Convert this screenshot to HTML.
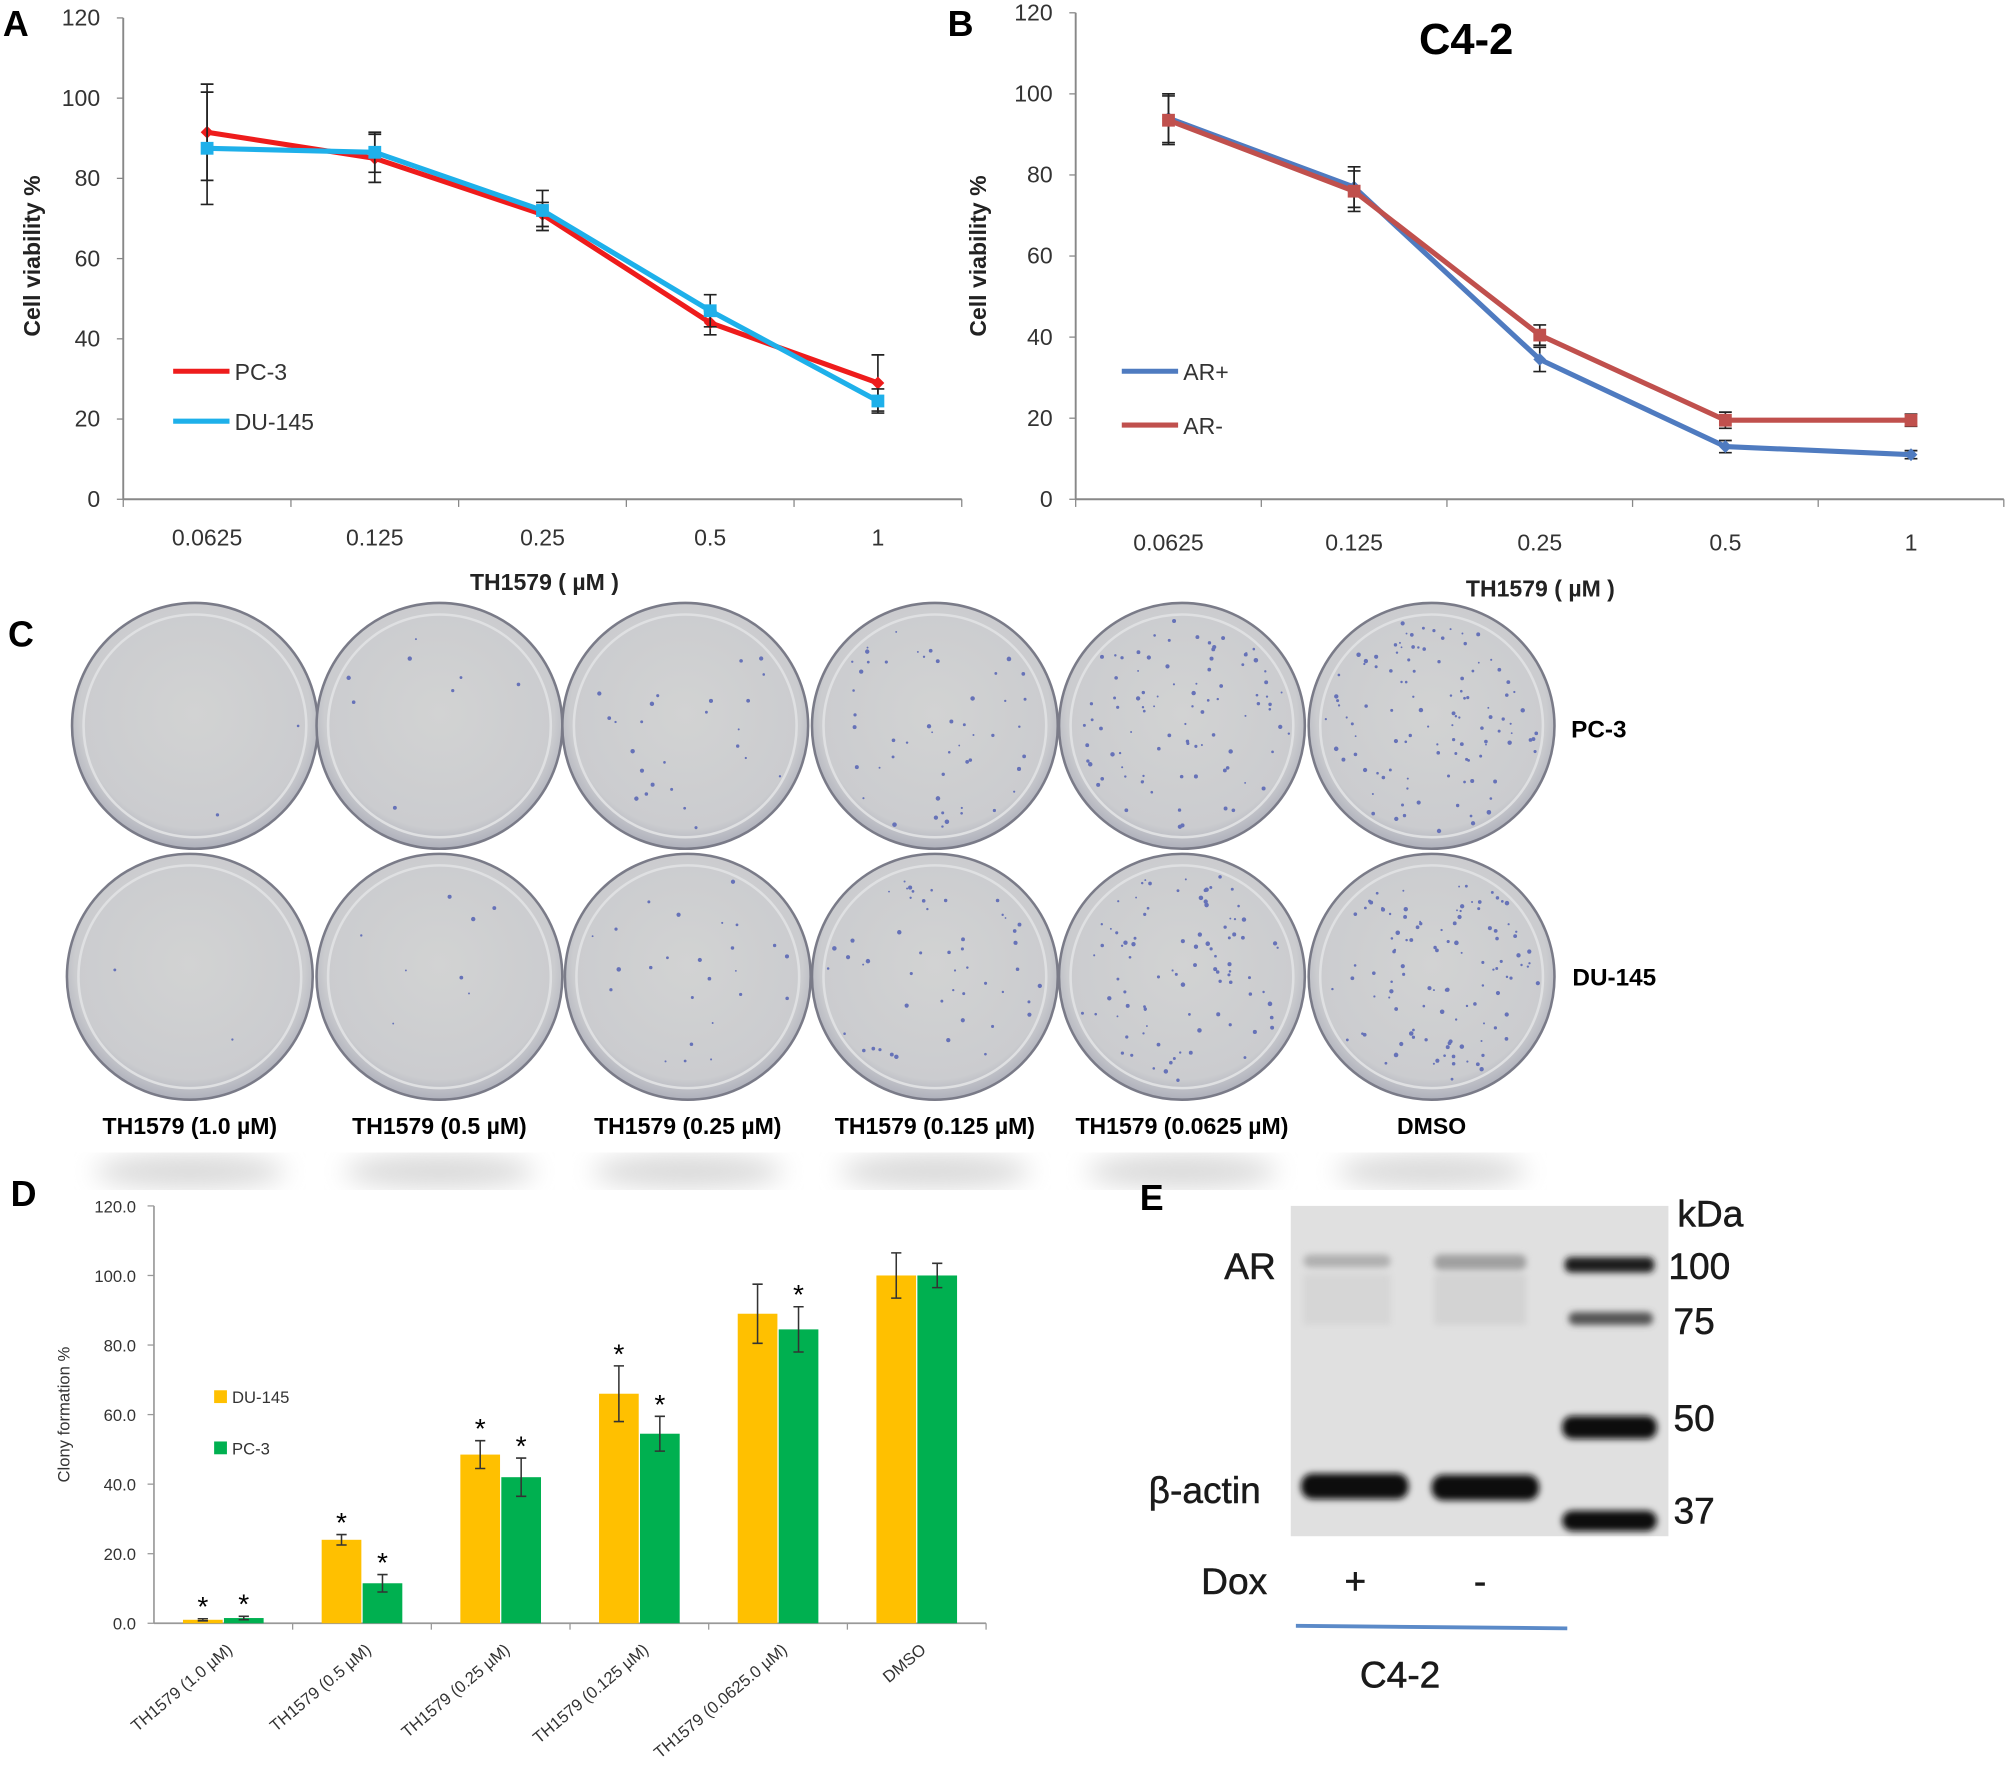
<!DOCTYPE html>
<html><head><meta charset="utf-8"><style>
body{margin:0;background:#fff}
svg{display:block;font-family:"Liberation Sans",Arial,sans-serif}
</style></head><body>
<svg id="fig" width="2008" height="1782" viewBox="0 0 1568 1392" xmlns="http://www.w3.org/2000/svg">
<defs>
<radialGradient id="dish" cx="50%" cy="45%" r="55%"><stop offset="0" stop-color="#d2d3d3"/><stop offset="0.85" stop-color="#cbcccf"/><stop offset="1" stop-color="#aeb0bb"/></radialGradient>
<filter id="blur"><feGaussianBlur stdDeviation="10"/></filter>
<filter id="bandblur"><feGaussianBlur stdDeviation="2.5"/></filter>
</defs>
<g id="panelA"></g>
<g id="panelB"></g>
<g id="panelC"></g>
<g id="panelD"></g>
<g id="panelE">
<text x="890" y="945" font-size="28" font-weight="bold">E</text>
<rect x="1008" y="942" width="295" height="258" fill="#e0e0e0"/>
<g filter="url(#bandblur)">
<rect x="1018" y="980" width="68" height="10" rx="5" fill="#b0b0b0"/>
<rect x="1120" y="980" width="72" height="12" rx="5" fill="#a0a0a0"/>
<rect x="1018" y="995" width="68" height="40" fill="#d6d6d6"/>
<rect x="1120" y="995" width="72" height="40" fill="#d3d3d3"/>
<rect x="1016" y="1151" width="84" height="20" rx="9" fill="#111"/>
<rect x="1118" y="1152" width="84" height="20" rx="9" fill="#111"/>
<rect x="1222" y="982" width="70" height="12" rx="5" fill="#1a1a1a"/>
<rect x="1225" y="1025" width="66" height="10" rx="5" fill="#555"/>
<rect x="1220" y="1106" width="74" height="18" rx="8" fill="#111"/>
<rect x="1220" y="1180" width="74" height="16" rx="8" fill="#111"/>
</g>
<g font-size="29" fill="#1a1a1a" font-weight="500" stroke="#1a1a1a" stroke-width="0.4">
<text x="1310" y="958">kDa</text>
<text x="1303" y="999">100</text>
<text x="1307" y="1042">75</text>
<text x="1307" y="1118">50</text>
<text x="1307" y="1190">37</text>
<text x="956" y="999">AR</text>
<text x="897" y="1174">β-actin</text>
<text x="938" y="1245">Dox</text>
<text x="1050" y="1245">+</text>
<text x="1151" y="1245">-</text>
<text x="1062" y="1318">C4-2</text>
</g>
<line x1="1012" y1="1270" x2="1224" y2="1272" stroke="#5b8ac8" stroke-width="3"/>
</g>
</svg>
<script>
// Panel A data
const catsA = ["0.0625","0.125","0.25","0.5","1"];
const pc3A = [91.5,85,71,44,29];
const pc3AErr = [12,6,3,3,7];
const du145A = [87.5,86.5,72,47,24.5];
const du145AErr = [14,5,5,4,3];
const yTicksA = [0,20,40,60,80,100,120];
// Panel B data
const catsB = ["0.0625","0.125","0.25","0.5","1"];
const arPlusB = [94,77,34.5,13,11];
const arPlusBErr = [6,5,3,1.5,1];
const arMinusB = [93.5,76,40.5,19.5,19.5];
const arMinusBErr = [6,5,2.5,2,1.5];
const yTicksB = [0,20,40,60,80,100,120];
// Panel D data
const catsD = ["TH1579 (1.0 µM)","TH1579 (0.5 µM)","TH1579 (0.25 µM)","TH1579 (0.125 µM)","TH1579 (0.0625.0 µM)","DMSO"];
const duD = [1,24,48.5,66,89,100];
const duDErr = [0.3,1.5,4,8,8.5,6.5];
const pcD = [1.5,11.5,42,54.5,84.5,100];
const pcDErr = [0.5,2.5,5.5,5,6.5,3.5];
const duStar = [1,1,1,1,0,0];
const pcStar = [1,1,1,1,1,0];
const yTicksD = [0,20,40,60,80,100,120];
// Panel C
const dishLabels = ["TH1579 (1.0 µM)","TH1579 (0.5 µM)","TH1579 (0.25 µM)","TH1579 (0.125 µM)","TH1579 (0.0625 µM)","DMSO"];
const colonyDensity = [2,8,25,50,90,110];

const NS="http://www.w3.org/2000/svg";
function mk(parent,tag,attrs,text){const e=document.createElementNS(NS,tag);for(const k in attrs)e.setAttribute(k,attrs[k]);if(text!==undefined)e.textContent=text;parent.appendChild(e);return e;}

function lineChart(g,o){
  const y=v=>o.y0-(v-0)*(o.y0-o.y120)/120;
  const step=(o.xEnd-o.x0)/o.cats.length;
  const x=i=>o.x0+step*(i+0.5);
  let e;
  e=mk(g,"line",{x1:o.x0,y1:o.y120,x2:o.x0,y2:o.y0,stroke:"#888","stroke-width":1.5});
  
  
  e=mk(g,"line",{x1:o.x0,y1:o.y0,x2:o.xEnd,y2:o.y0,stroke:"#888","stroke-width":1.5});
  
  
  o.yTicks.forEach(t=>{
    e=mk(g,"line",{x1:o.x0-5,y1:y(t),x2:o.x0,y2:y(t),stroke:"#888"});
    
    
    e=mk(g,"text",{x:o.x0-18,y:y(t)+6,"font-size":18,"text-anchor":"end",fill:"#333"},t);
    
    
  });
  for(let i=0;i<=o.cats.length;i++){
    e=mk(g,"line",{x1:o.x0+step*i,y1:o.y0,x2:o.x0+step*i,y2:o.y0+6,stroke:"#888"});
    
    
  }
  o.cats.forEach((c,i)=>{
    e=mk(g,"text",{x:x(i),y:o.y0+o.labOff,"font-size":18,"text-anchor":"middle",fill:"#333"},c);
    
    
  });
  o.series.forEach(s=>{
    const pts=s.vals.map((v,i)=>x(i)+","+y(v)).join(" ");
    e=mk(g,"polyline",{points:pts,fill:"none",stroke:s.color,"stroke-width":4});
    
    
    s.vals.forEach((v,i)=>{
      const eb=mk(g,"path",{d:`M${x(i)},${y(v+s.err[i])}V${y(v-s.err[i])}M${x(i)-5},${y(v+s.err[i])}h10M${x(i)-5},${y(v-s.err[i])}h10`,stroke:"#222","stroke-width":1.3,fill:"none"});
      
      
      const m = s.marker==="sq"?mk(g,"rect",{x:x(i)-5,y:y(v)-5,width:10,height:10,fill:s.color}):mk(g,"path",{d:`M${x(i)},${y(v)-5}l5,5l-5,5l-5,-5z`,fill:s.color});
      
      
    });
    e=mk(g,"line",{x1:s.lx,y1:s.ly,x2:s.lx+44,y2:s.ly,stroke:s.color,"stroke-width":4});
    
    
    e=mk(g,"text",{x:s.lx+48,y:s.ly+7,"font-size":18,fill:"#333"},s.label);
    
    
  });
  e=mk(g,"text",{x:o.titleX,y:o.titleY,"font-size":18,"font-weight":"bold","text-anchor":"middle",fill:"#222"},"TH1579 ( µM )");
  
  
  e=mk(g,"text",{x:0,y:0,"font-size":18,"font-weight":"bold","text-anchor":"middle",fill:"#222",transform:`translate(${o.ytX},${o.ytY}) rotate(-90)`},"Cell viability %");
  
  
  e=mk(g,"text",{x:o.letX,y:28,"font-size":28,"font-weight":"bold"},o.letter);
  
  
}
lineChart(document.getElementById("panelA"),{x0:96,xEnd:751,y0:390,y120:14,cats:catsA,yTicks:yTicksA,labOff:36,titleX:425,titleY:461,ytX:31,ytY:200,letX:2,letter:"A",
 series:[{name:"pc-3",label:"PC-3",vals:pc3A,err:pc3AErr,color:"#ee1c1c",marker:"di",lx:135,ly:290},
         {name:"du-145",label:"DU-145",vals:du145A,err:du145AErr,color:"#1eb0ea",marker:"sq",lx:135,ly:329}]});
lineChart(document.getElementById("panelB"),{x0:840,xEnd:1565,y0:390,y120:10,cats:catsB,yTicks:yTicksB,labOff:40,titleX:1203,titleY:466,ytX:770,ytY:200,letX:740,letter:"B",
 series:[{name:"ar-plus",label:"AR+",vals:arPlusB,err:arPlusBErr,color:"#4f7bc0",marker:"di",lx:876,ly:290},
         {name:"ar-minus",label:"AR-",vals:arMinusB,err:arMinusBErr,color:"#c0504d",marker:"sq",lx:876,ly:332}]});
(function(){const g=document.getElementById("panelB");const e=mk(g,"text",{x:1145,y:42,"font-size":34,"font-weight":"bold","text-anchor":"middle"},"C4-2");

})();

// Panel C
(function(){
  const g=document.getElementById("panelC");
  let e=mk(g,"text",{x:6,y:505,"font-size":28,"font-weight":"bold"},"C");
  
  
  const xs1=[152,343,535,730,923,1118], xs2=[148,343,537,730,923,1118];
  const rows=[[xs1,567,"pc-3"],[xs2,763,"du-145"]];
  let seed=7;const rnd=()=>{seed=(seed*16807)%2147483647;return seed/2147483647;};
  rows.forEach(([xs,cy,rn])=>{
    xs.forEach((cx,i)=>{
      e=mk(g,"circle",{cx:cx,cy:cy,r:96,fill:"url(#dish)",stroke:"#7a7b88","stroke-width":2});
      
      
      e=mk(g,"circle",{cx:cx,cy:cy,r:87,fill:"none",stroke:"#dfe0e2","stroke-width":2});
      
      
      for(let k=0;k<colonyDensity[i];k++){
        const a=rnd()*6.283,r=Math.sqrt(rnd())*84;
        e=mk(g,"circle",{cx:cx+r*Math.cos(a),cy:cy+r*Math.sin(a),r:0.7+rnd()*1.1,fill:"#6672b8"});
        
        
      }
    });
  });
  [["PC-3",1227,576],["DU-145",1228,770]].forEach(([t,x,y])=>{
    e=mk(g,"text",{x:x,y:y,"font-size":19,"font-weight":"bold"},t);
    
    
  });
  dishLabels.forEach((t,i)=>{
    e=mk(g,"text",{x:xs2[i],y:886,"font-size":18,"font-weight":"bold","text-anchor":"middle"},t);
    
    
    e=mk(g,"ellipse",{cx:xs2[i],cy:915,rx:75,ry:12,fill:"#d6d6d6",filter:"url(#blur)"});
    
    
  });
})();

// Panel D
(function(){
  const g=document.getElementById("panelD");
  const x0=120,xEnd=770,y0=1268,y120=942;
  const y=v=>y0-v*(y0-y120)/120;
  const step=(xEnd-x0)/catsD.length;
  const cx=i=>x0+step*(i+0.5);
  let e=mk(g,"text",{x:8,y:942,"font-size":28,"font-weight":"bold"},"D");
  
  
  e=mk(g,"line",{x1:x0,y1:y120,x2:x0,y2:y0,stroke:"#999","stroke-width":1.3});
  
  
  e=mk(g,"line",{x1:x0,y1:y0,x2:xEnd,y2:y0,stroke:"#999","stroke-width":1.3});
  
  
  yTicksD.forEach(t=>{
    e=mk(g,"text",{x:x0-14,y:y(t)+5,"font-size":13,"text-anchor":"end",fill:"#333"},t.toFixed(1));
    
    
    e=mk(g,"line",{x1:x0-5,y1:y(t),x2:x0,y2:y(t),stroke:"#999"});
    
    
  });
  const bw=31;
  const drawBar=(i,v,er,star,dx,col,nm)=>{
    const bx=cx(i)+dx;
    e=mk(g,"rect",{x:bx-bw/2,y:y(v),width:bw,height:y0-y(v),fill:col});
    
    
    e=mk(g,"path",{d:`M${bx},${y(v+er)}V${y(v-er)}M${bx-4},${y(v+er)}h8M${bx-4},${y(v-er)}h8`,stroke:"#333","stroke-width":1.2,fill:"none"});
    
    
    if(star){e=mk(g,"text",{x:bx,y:y(v+er)-2,"font-size":22,"text-anchor":"middle"},"*");
      
      }
  };
  catsD.forEach((c,i)=>{
    drawBar(i,duD[i],duDErr[i],duStar[i],-16,"#ffc000","du-145");
    drawBar(i,pcD[i],pcDErr[i],pcStar[i],16,"#00b050","pc-3");
    e=mk(g,"line",{x1:x0+step*(i+1),y1:y0,x2:x0+step*(i+1),y2:y0+5,stroke:"#999"});
    
    
    e=mk(g,"text",{x:0,y:0,"font-size":13,"text-anchor":"end",fill:"#333",transform:`translate(${cx(i)+8},${y0+22}) rotate(-40)`},c);
    
    
  });
  e=mk(g,"text",{x:0,y:0,"font-size":13,"text-anchor":"middle",fill:"#333",transform:"translate(54,1105) rotate(-90)"},"Clony formation %");
  
  
  [["DU-145","#ffc000",1091],["PC-3","#00b050",1131]].forEach(([t,c,ly])=>{
    e=mk(g,"rect",{x:167,y:ly-5,width:10,height:10,fill:c});
    
    
    e=mk(g,"text",{x:181,y:ly+5,"font-size":13,fill:"#333"},t);
    
    
  });
})();
</script>
</body></html>
